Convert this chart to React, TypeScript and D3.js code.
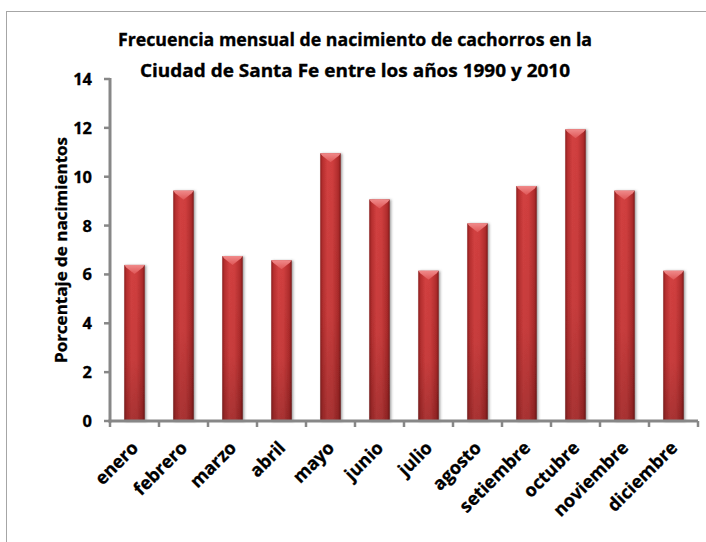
import React from 'react'
import * as d3 from 'd3'

// monthly values
const months = ['enero', 'febrero', 'marzo', 'abril', 'mayo', 'junio', 'julio', 'agosto', 'setiembre', 'octubre', 'noviembre', 'diciembre']
const percents = [6.39, 9.43, 6.75, 6.58, 10.96, 9.07, 6.15, 8.09, 9.62, 11.94, 9.43, 6.15]
const yTicks = [0, 2, 4, 6, 8, 10, 12, 14]
const titleLines = ['Frecuencia mensual de nacimiento de cachorros en la', 'Ciudad de Santa Fe entre los años 1990 y 2010']
const yTitle = 'Porcentaje de nacimientos'

const W = 706
const H = 542
const plotLeft = 110
const plotRight = 698
const plotTop = 79
const plotBottom = 421

const font = '"Open Sans", sans-serif'

const App = () => {
    const x = d3.scaleBand<string>()
        .domain(months)
        .range([plotLeft, plotRight])
        .paddingInner(0)
        .paddingOuter(0)

    const y = d3.scaleLinear()
        .domain([0, 14])
        .range([plotBottom, plotTop])

    const barW = 20.5
    const axisColor = '#878787'

    return (
        <svg width={W} height={H} style={{ position: 'absolute', left: 0, top: 0, background: '#fff' }}>
            <defs>
                <linearGradient id="barH" x1="0" x2="1" y1="0" y2="0">
                    <stop offset="0" stopColor="#8e1f1f" />
                    <stop offset="0.12" stopColor="#b83030" />
                    <stop offset="0.35" stopColor="#d24040" />
                    <stop offset="0.6" stopColor="#cf3e3e" />
                    <stop offset="0.88" stopColor="#b02c2c" />
                    <stop offset="1" stopColor="#7e1b1b" />
                </linearGradient>
                <linearGradient id="barV" x1="0" x2="0" y1="0" y2="1">
                    <stop offset="0" stopColor="#000" stopOpacity="0" />
                    <stop offset="0.6" stopColor="#000" stopOpacity="0.05" />
                    <stop offset="1" stopColor="#000" stopOpacity="0.2" />
                </linearGradient>
                <linearGradient id="bevel" x1="0" x2="0" y1="0" y2="1">
                    <stop offset="0" stopColor="#f08a8a" />
                    <stop offset="1" stopColor="#df5656" />
                </linearGradient>
                <filter id="shadow" x="-30%" y="-10%" width="160%" height="120%">
                    <feDropShadow dx="1.5" dy="0.5" stdDeviation="1.2" floodColor="#555" floodOpacity="0.55" />
                </filter>
            </defs>

            <rect x={6.5} y={11.5} width={W + 20} height={H + 20} fill="#fff" stroke="#a6a6a6" strokeWidth={1} />

            <g fontFamily={font} fontWeight="bold" fill="#000" stroke="#000" strokeWidth={0.35}>
                {titleLines.map((t, i) => (
                    <text key={t} x={355} y={46 + i * 31} textAnchor="middle" fontSize={18.5}
                        textLength={i === 0 ? 474 : 430} lengthAdjust="spacingAndGlyphs">{t}</text>
                ))}
            </g>

            {months.map((m, i) => {
                const cx = (x(m) ?? 0) + x.bandwidth() / 2
                const bx = cx - barW / 2
                const top = y(percents[i])
                const h = y(0) - top
                return (
                    <g key={m} filter="url(#shadow)">
                        <rect x={bx} y={top} width={barW} height={h} fill="url(#barH)" />
                        <rect x={bx} y={top} width={barW} height={h} fill="url(#barV)" />
                        <polygon
                            points={`${bx},${top} ${bx + barW},${top} ${bx + barW - 2},${top + 2.5} ${cx},${top + 9} ${bx + 2},${top + 2.5}`}
                            fill="url(#bevel)" />
                    </g>
                )
            })}

            <g stroke={axisColor} strokeWidth={3} fill="none">
                <line x1={plotLeft} x2={plotLeft} y1={plotTop - 1} y2={plotBottom + 1.5} />
                <line x1={plotLeft - 1.5} x2={plotRight} y1={plotBottom} y2={plotBottom} />
                {yTicks.map(t => (
                    <line key={t} x1={plotLeft - 6} x2={plotLeft} y1={y(t)} y2={y(t)} strokeWidth={2.5} />
                ))}
                {months.map(m => {
                    const xx = x(m) ?? 0
                    return <line key={m} x1={xx} x2={xx} y1={plotBottom} y2={plotBottom + 6} strokeWidth={2.5} />
                })}
                <line x1={plotRight} x2={plotRight} y1={plotBottom} y2={plotBottom + 6} strokeWidth={2.5} />
            </g>

            <g fontFamily={font} fontWeight="bold" fill="#000" stroke="#000" strokeWidth={0.3}>
                {yTicks.map(t => (
                    <text key={t} x={92} y={y(t)} dy="0.36em" textAnchor="end" fontSize={16.5}>{t}</text>
                ))}
                <text transform={`translate(61,250) rotate(-90)`} textAnchor="middle" dy="0.35em" fontSize={16.5}
                    textLength={226} lengthAdjust="spacingAndGlyphs">{yTitle}</text>
                {months.map(m => {
                    const cx = (x(m) ?? 0) + x.bandwidth() / 2
                    return (
                        <text key={m} transform={`translate(${cx + 5},${plotBottom + 28}) rotate(-45)`}
                            textAnchor="end" fontSize={18}>{m}</text>
                    )
                })}
            </g>
        </svg>
    )
}

export default App
